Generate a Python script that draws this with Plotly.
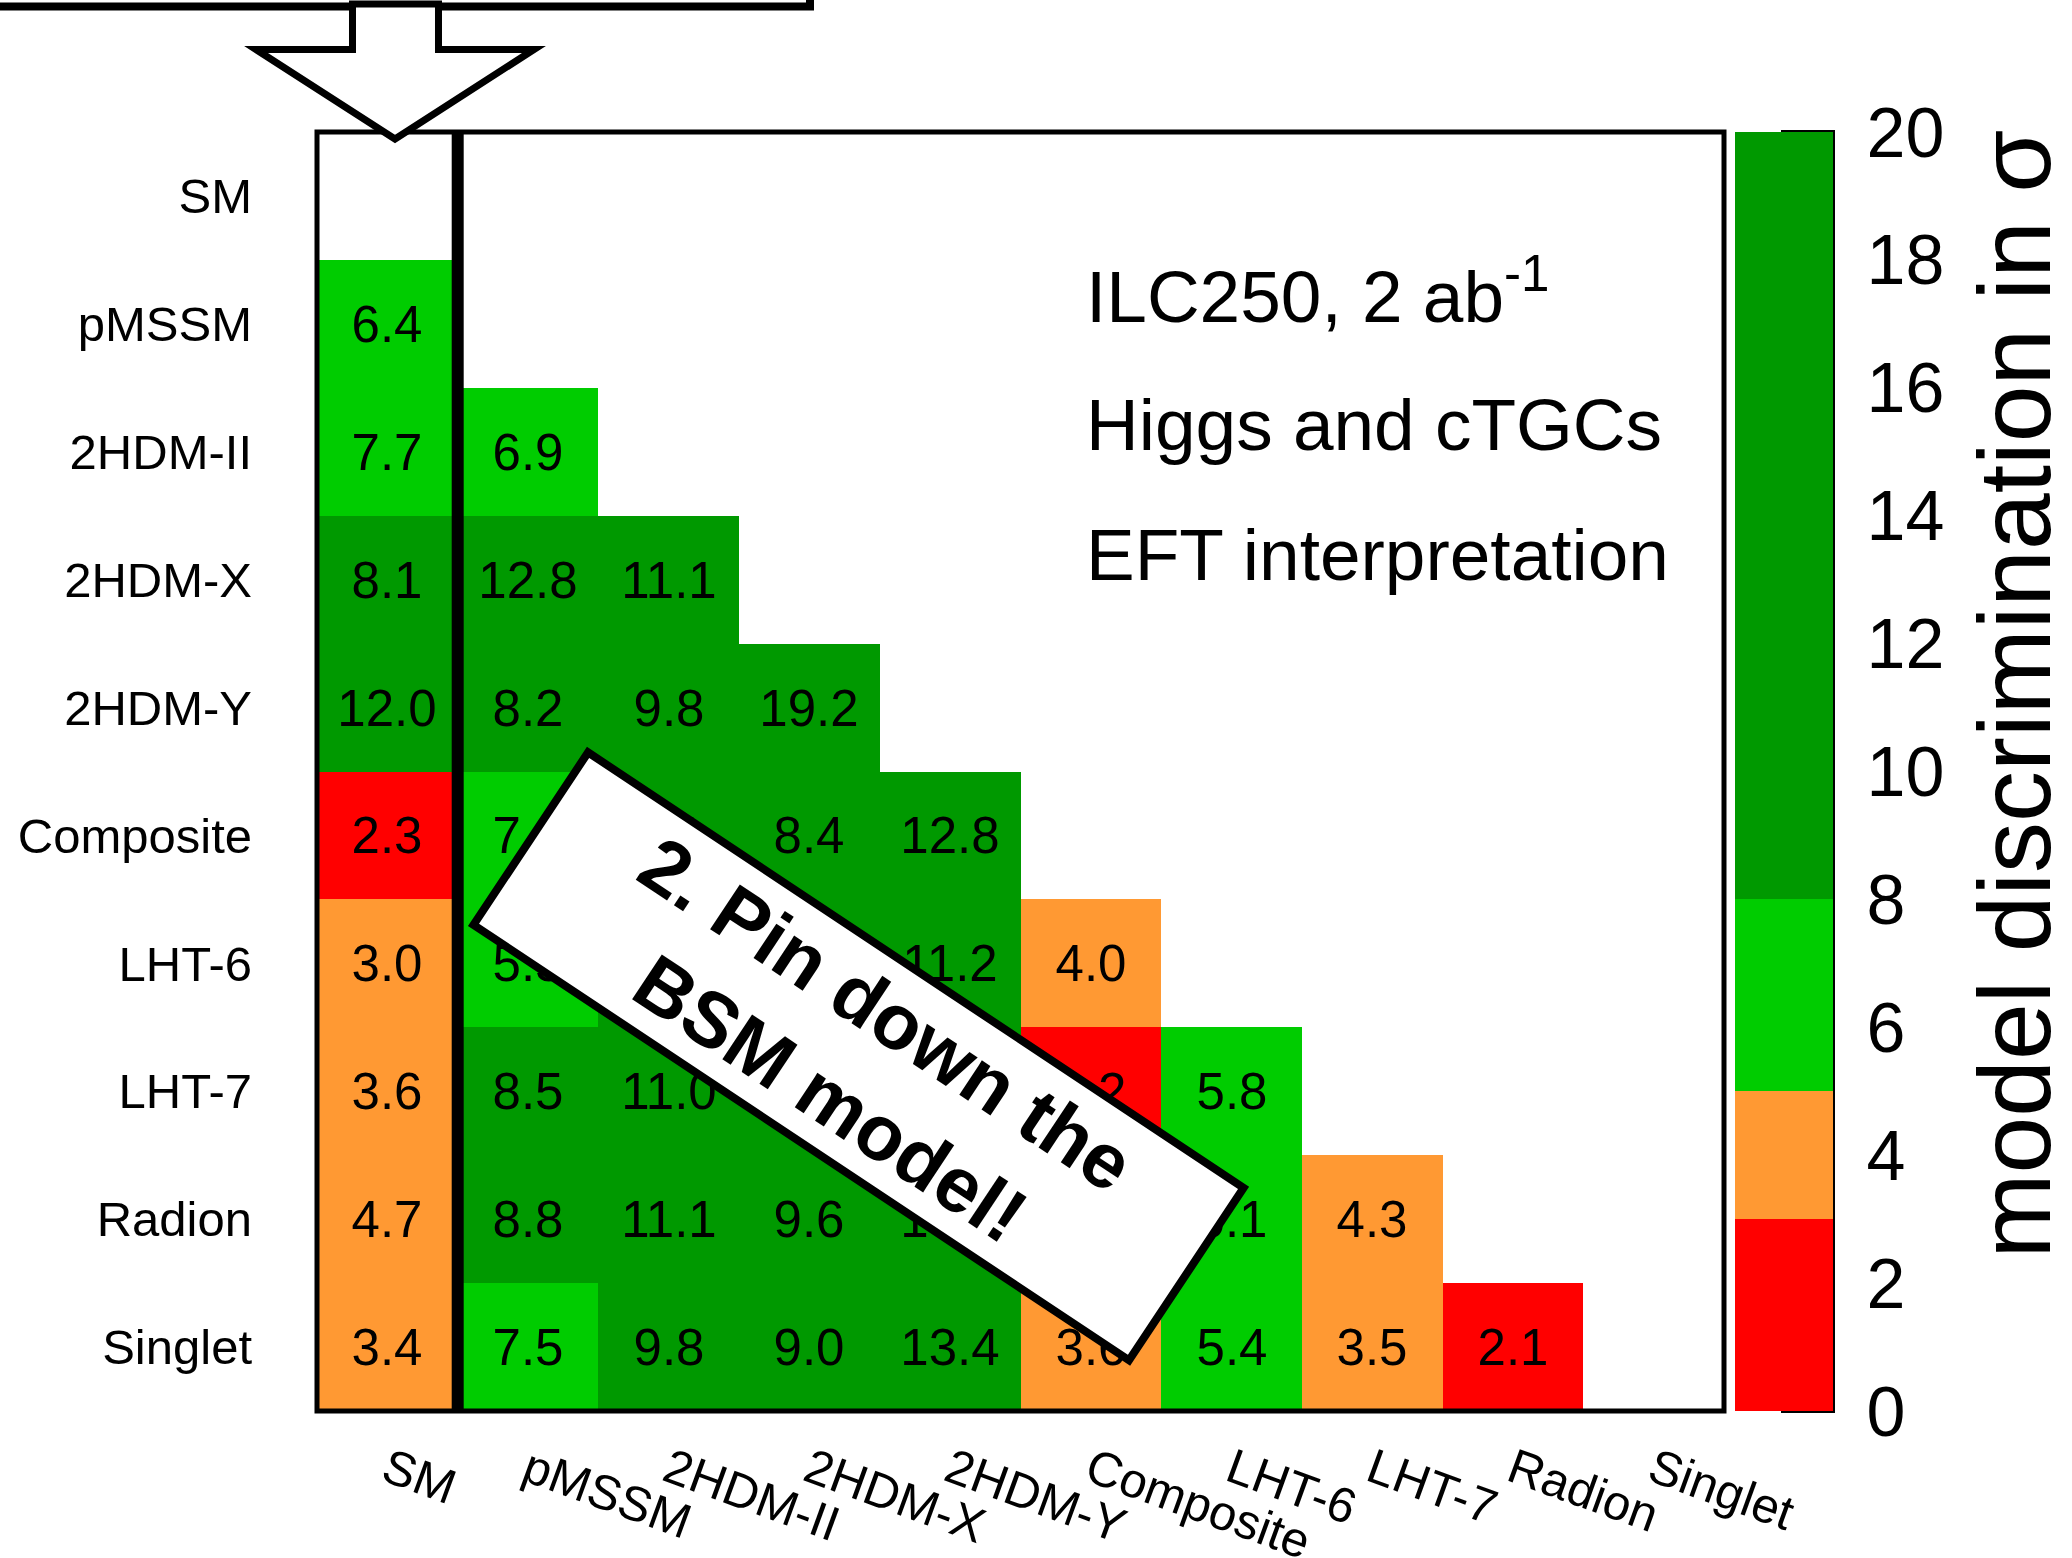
import plotly.graph_objects as go

# ---------------- data ----------------
models = ["SM", "pMSSM", "2HDM-II", "2HDM-X", "2HDM-Y",
          "Composite", "LHT-6", "LHT-7", "Radion", "Singlet"]

# lower-triangle rows (discrimination in sigma vs. the models to the left)
row_sm = []
row_pmssm = [6.4]
row_2hdm_ii = [7.7, 6.9]
row_2hdm_x = [8.1, 12.8, 11.1]
row_2hdm_y = [12.0, 8.2, 9.8, 19.2]
row_composite = [2.3, 7.4, 9.1, 8.4, 12.8]
row_lht6 = [3.0, 5.5, 9.3, 10.4, 11.2, 4.0]
row_lht7 = [3.6, 8.5, 11.0, 9.7, 14.5, 2.2, 5.8]
row_radion = [4.7, 8.8, 11.1, 9.6, 13.6, 4.4, 6.1, 4.3]
row_singlet = [3.4, 7.5, 9.8, 9.0, 13.4, 3.6, 5.4, 3.5, 2.1]

rows = [row_sm, row_pmssm, row_2hdm_ii, row_2hdm_x, row_2hdm_y,
        row_composite, row_lht6, row_lht7, row_radion, row_singlet]

cbar_ticks = [0, 2, 4, 6, 8, 10, 12, 14, 16, 18, 20]
info_lines = ["ILC250, 2 ab<sup>-1</sup>", "Higgs and cTGCs", "EFT interpretation"]
callout_text = "2. Pin down the<br>BSM model!"
cbar_title = "model discrimination in σ"

# ---------------- build matrix ----------------
n = len(models)
z, txt = [], []
for r in rows:
    zr = list(r) + [None] * (n - len(r))
    z.append(zr)
    txt.append(["%.1f" % v if v is not None else "" for v in zr])

ZMIN, ZMAX = 0, 20
RED, ORANGE, LGREEN, DGREEN = "#FF0000", "#FF9933", "#00CC00", "#009900"
colorscale = [[0.0, RED], [0.15, RED], [0.15, ORANGE], [0.25, ORANGE],
              [0.25, LGREEN], [0.40, LGREEN], [0.40, DGREEN], [1.0, DGREEN]]

W, H = 2072, 1558
L, R, T, B = 317, 1724, 132, 1411   # plot area in pixels
CB_L, CB_R = 1735, 1833             # colour bar in pixels


def px(xp):
    return (xp - L) / (R - L)


def py(yp):
    return (B - yp) / (B - T)


FONT = "Liberation Sans, Arial, Helvetica, sans-serif"

fig = go.Figure()
fig.add_trace(go.Heatmap(
    z=z, x=list(range(n)), y=list(range(n)),
    text=txt, texttemplate="%{text}",
    textfont=dict(family=FONT, size=51, color="black"),
    colorscale=colorscale, zmin=ZMIN, zmax=ZMAX,
    hoverinfo="skip",
    colorbar=dict(
        x=px(CB_L), xanchor="left", xpad=0, ypad=0,
        y=0.5, yanchor="middle", len=1, lenmode="fraction",
        thickness=CB_R - CB_L, thicknessmode="pixels",
        outlinewidth=0,
        ticks="outside", ticklen=20, tickwidth=1, tickcolor="rgba(0,0,0,0)",
        tickmode="array", tickvals=cbar_ticks,
        ticktext=[str(t) for t in cbar_ticks],
        tickfont=dict(family=FONT, size=70, color="black"),
    ),
))

shapes = []
# plot frame
shapes.append(dict(type="rect", xref="paper", yref="paper", x0=0, x1=1, y0=0, y1=1,
                   line=dict(color="black", width=5), fillcolor="rgba(0,0,0,0)", layer="above"))
# thick separator between SM column and the rest
shapes.append(dict(type="line", xref="x", yref="paper", x0=0.5, x1=0.5, y0=0, y1=1,
                   line=dict(color="black", width=12), layer="above"))
# colour bar axis line
shapes.append(dict(type="line", xref="paper", yref="paper", x0=px(CB_R), x1=px(CB_R),
                   y0=py(B + 2), y1=py(T - 2), line=dict(color="black", width=4), layer="above"))
# colour bar inward ticks
for t in cbar_ticks:
    yv = (t - ZMIN) / (ZMAX - ZMIN)
    shapes.append(dict(type="line", xref="paper", yref="paper",
                       x0=px(CB_R - 52), x1=px(CB_R), y0=yv, y1=yv,
                       line=dict(color="black", width=4), layer="above"))
# box at top (partially cut)
shapes.append(dict(type="rect", xref="paper", yref="paper",
                   x0=px(-30), x1=px(810), y0=py(6.5), y1=py(-60),
                   line=dict(color="black", width=8), fillcolor="white", layer="above"))
# hollow arrow
pts = [(352.5, 4), (352.5, 49.5), (256, 49.5), (395, 139), (534, 49.5), (438.5, 49.5), (438.5, 4)]
path = "M " + " L ".join("%.5f,%.5f" % (px(a), py(b)) for a, b in pts) + " Z"
shapes.append(dict(type="path", xref="paper", yref="paper", path=path,
                   line=dict(color="black", width=7), fillcolor="white", layer="above"))

annotations = []
baselines = [322, 450, 580]
for line, bl in zip(info_lines, baselines):
    annotations.append(dict(text=line, xref="paper", yref="paper",
                            x=px(1084), y=py(bl + 16.5), xanchor="left", yanchor="bottom",
                            showarrow=False, font=dict(family=FONT, size=73, color="black")))
# colour bar title
annotations.append(dict(text=cbar_title, xref="paper", yref="paper",
                        x=px(2014), y=py(128), xanchor="center", yanchor="top",
                        textangle=-90, showarrow=False,
                        font=dict(family=FONT, size=102, color="black")))
# rotated callout box
bw = 8
annotations.append(dict(text=callout_text, xref="paper", yref="paper",
                        x=px(858.75), y=py(1056.5), xanchor="center", yanchor="middle",
                        textangle=33.6, showarrow=False,
                        width=795 - 2 * bw, height=215 - 2 * bw, borderpad=0,
                        bgcolor="white", bordercolor="black", borderwidth=bw,
                        font=dict(family=FONT, size=78, color="black", weight="bold")))

fig.update_layout(
    width=W, height=H, autosize=False,
    margin=dict(l=L, r=W - R, t=T, b=H - B, pad=0, autoexpand=False),
    paper_bgcolor="white", plot_bgcolor="white",
    font=dict(family=FONT, color="black"),
    xaxis=dict(range=[-0.5, n - 0.5], tickmode="array", tickvals=list(range(n)),
               ticktext=models, tickangle=20, ticks="", showgrid=False, zeroline=False,
               tickfont=dict(family=FONT, size=49, color="black"),
               ticklabelstandoff=20, automargin=False, fixedrange=True),
    yaxis=dict(range=[n - 0.5, -0.5], tickmode="array", tickvals=list(range(n)),
               ticktext=models, ticks="", showgrid=False, zeroline=False,
               tickfont=dict(family=FONT, size=49, color="black"),
               ticklabelstandoff=64, automargin=False, fixedrange=True),
    shapes=shapes, annotations=annotations,
    showlegend=False,
)

fig.write_html("out.html")
